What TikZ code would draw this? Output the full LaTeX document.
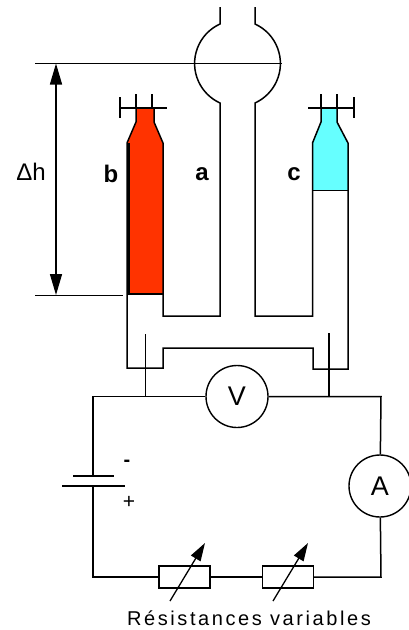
\documentclass[tikz,border=0pt]{standalone}
\usepackage{fontspec}
\setmainfont{Liberation Sans}
\usetikzlibrary{arrows.meta}
\definecolor{redfill}{HTML}{FF3300}
\definecolor{cyanfill}{HTML}{66FFFF}
\tikzset{
  glass/.style={line width=1.5pt,line join=miter},
  wire/.style={line width=1.5pt},
  thinline/.style={line width=0.8pt},
  meter/.style={circle,draw,line width=1.4pt,minimum size=62pt,inner sep=0pt,font=\fontsize{27}{27}\selectfont,fill=white},
  resistor/.style={rectangle,draw,line width=1.4pt,minimum width=51pt,minimum height=22pt,inner sep=0pt,fill=white},
  letter/.style={font=\bfseries\fontsize{24}{24}\selectfont,inner sep=0pt},
  varrow/.style={line width=1.3pt,-{Triangle[length=18pt,width=11pt]}},
}
\begin{document}
\begin{tikzpicture}[x=1pt,y=1pt]
\useasboundingbox (0,0) rectangle (408,-630);
\path[fill=white] (0,0) rectangle (408,-630);
% fills
\fill[redfill] (136,-108) -- (154,-108) -- (154,-122) -- (163,-143) -- (163,-294) -- (127,-294) -- (127,-143) -- (136,-122) -- cycle;
\fill[cyanfill] (321,-108) -- (337,-108) -- (337,-122) -- (348,-143) -- (348,-190) -- (313,-190) -- (312,-143) -- (321,-122) -- cycle;
% bulb and tube a
\draw[glass] (220,-7) -- (220,-24) arc[start angle=114.5,end angle=245.5,radius=43.4] -- (220,-316) -- (163,-316) -- (163,-143) -- (154,-122) -- (154,-108);
\draw[glass] (255,-7) -- (255,-24) arc[start angle=65.5,end angle=-65.5,radius=43.4] -- (255,-316) -- (312.5,-316) -- (312.5,-143) -- (321,-122) -- (321,-108);
\draw[glass] (136,-108) -- (136,-122) -- (127,-143) -- (127,-368) -- (163,-368) -- (163,-348) -- (313,-348) -- (313,-369) -- (348,-369) -- (348,-143) -- (337,-122) -- (337,-108);
% liquid details
\draw[line width=3pt] (128.5,-143) -- (128.5,-294);
\draw[line width=2pt] (127,-294) -- (163,-294);
\draw[line width=1pt] (313,-190) -- (348,-190);
\draw[line width=1.5pt] (194,-63.5) -- (282,-63.5);
% electrode tops
\draw[wire] (120,-108) -- (167,-108);
\draw[wire] (120,-97) -- (120,-118);
\draw[wire] (136,-94) -- (136,-108);
\draw[wire] (152,-94) -- (152,-108);
\draw[wire] (308,-108) -- (354,-108);
\draw[wire] (354,-97) -- (354,-118);
\draw[wire] (321,-94) -- (321,-108);
\draw[wire] (337,-94) -- (337,-108);
% level lines and dimension
\coordinate (hi) at (56,-63.5);
\coordinate (lo) at (56,-295);
\draw[thinline] (35,-63.5) -- (194,-63.5);
\draw[thinline] (35,-295) -- (123,-295);
\draw[line width=1.5pt,{Triangle[length=21pt,width=12pt]}-{Triangle[length=21pt,width=12pt]}] (hi) -- (lo);
\node[font=\fontsize{24}{24}\selectfont,inner sep=0pt] (dh) at (31,-172) {Δh};
\node[letter] (lb) at (111,-174) {b};
\node[letter] (la) at (202,-174) {a};
\node[letter] (lc) at (294,-174) {c};
% circuit
\coordinate (tl) at (93,-396.5);
\coordinate (tr) at (381,-396.5);
\coordinate (bl) at (93,-577);
\coordinate (br) at (381,-577);
\coordinate (p1) at (93,-476);
\coordinate (p2) at (93,-486);
\coordinate (j1) at (145,-396.5);
\coordinate (j2) at (329,-396.5);
\coordinate (e1) at (145,-334);
\coordinate (e2) at (329,-333);
\node[meter] (V) at (237,-396.5) {V};
\node[meter] (A) at (380,-486) {A};
\node[resistor] (R1) at (184.5,-577) {};
\node[resistor] (R2) at (288,-577) {};
\draw[wire] (V) -- (tl) -- (p1);
\draw[wire] (V) -- (tr) -- (A);
\draw[wire] (p2) -- (bl) -- (R1);
\draw[wire] (R1) -- (R2);
\draw[wire] (R2) -- (br) -- (A);
\draw[line width=1pt] (e1) -- (j1);
\draw[line width=1.2pt] (e2) -- (j2);
% battery
\draw[wire] (73,-476) -- (114,-476);
\draw[wire] (62,-486) -- (125,-486);
\node[font=\bfseries\fontsize{20}{20}\selectfont,inner sep=0pt] (minus) at (127,-463) {-};
\node[font=\fontsize{21}{21}\selectfont,inner sep=0pt] (plus) at (129,-502) {+};
% variable arrows
\coordinate (a1) at (170,-601);
\coordinate (a2) at (205,-543);
\coordinate (b1) at (273,-601);
\coordinate (b2) at (308,-543);
\draw[varrow] (a1) -- (a2);
\draw[varrow] (b1) -- (b2);
\node[font=\fontsize{20}{20}\selectfont,inner sep=0pt,anchor=base] (T) at (249,-625.5) {\addfontfeatures{LetterSpace=13}Résistances variables};
\end{tikzpicture}
\end{document}
